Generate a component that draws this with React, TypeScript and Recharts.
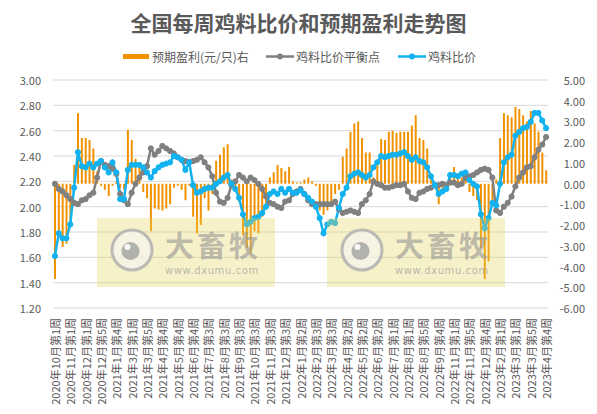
import React from 'react';
import { ComposedChart, Bar, Line, XAxis, YAxis, CartesianGrid } from 'recharts';

// ---- categories: month name, first and last week shown in that month ----
const monthNames = [
  '2020年10月', '2020年11月', '2020年12月', '2021年1月', '2021年2月', '2021年3月', '2021年4月', '2021年5月',
  '2021年6月', '2021年7月', '2021年8月', '2021年9月', '2021年10月', '2021年11月', '2021年12月', '2022年1月',
  '2022年2月', '2022年3月', '2022年4月', '2022年5月', '2022年6月', '2022年7月', '2022年8月', '2022年9月',
  '2022年10月', '2022年11月', '2022年12月', '2023年1月', '2023年2月', '2023年3月', '2023年4月',
];
const monthFirstWeek = [1, 1, 1, 1, 1, 1, 1, 1, 1, 1, 1, 1, 1, 1, 1, 1, 2, 1, 1, 1, 1, 1, 1, 1, 1, 1, 1, 1, 1, 1, 1];
const monthLastWeek = [4, 4, 5, 4, 3, 5, 4, 4, 5, 4, 4, 4, 4, 4, 5, 4, 4, 5, 4, 4, 5, 4, 5, 4, 3, 5, 4, 3, 4, 5, 4];

// ---- series: 鸡料比价 ----
const ratio = [
  1.61, 1.79, 1.75, 1.75, 1.86, 2.15, 2.43, 2.32, 2.31, 2.34,
  2.31, 2.34, 2.36, 2.31, 2.27, 2.35, 2.27, 2.06, 2.06, 2.29,
  2.33, 2.33, 2.33, 2.31, 2.27, 2.23, 2.28, 2.31, 2.33, 2.34,
  2.35, 2.40, 2.39, 2.37, 2.29, 2.35, 2.17, 2.11, 2.12, 2.14,
  2.15, 2.15, 2.18, 2.20, 2.23, 2.25, 2.18, 2.14, 2.07, 1.94,
  1.86, 1.88, 1.91, 1.92, 1.95, 2.00, 2.10, 2.12, 2.10, 2.14,
  2.11, 2.14, 2.11, 2.11, 2.13, 2.10, 2.07, 2.04, 2.00, 1.91,
  1.79, 1.86, 1.88, 1.87, 1.99, 2.10, 2.15, 2.24, 2.26, 2.27,
  2.25, 2.23, 2.25, 2.31, 2.35, 2.40, 2.39, 2.40, 2.41, 2.41,
  2.42, 2.43, 2.40, 2.37, 2.39, 2.36, 2.35, 2.31, 2.24, 2.17,
  2.10, 2.12, 2.14, 2.25, 2.25, 2.24, 2.26, 2.27, 2.21, 2.18,
  2.16, 1.94, 1.83, 1.91, 2.03, 2.01, 2.18, 2.35, 2.39, 2.41,
  2.56, 2.59, 2.62, 2.63, 2.67, 2.74, 2.74, 2.68, 2.62,
];

// ---- series: 鸡料比价平衡点 ----
const balance = [
  2.18, 2.14, 2.12, 2.09, 2.06, 2.03, 2.02, 2.05, 2.06, 2.09,
  2.11, 2.23, 2.36, 2.33, 2.32, 2.30, 2.26, 2.10, 2.05, 2.02,
  2.11, 2.18, 2.23, 2.27, 2.32, 2.46, 2.41, 2.44, 2.48, 2.46,
  2.44, 2.42, 2.39, 2.37, 2.36, 2.35, 2.36, 2.37, 2.39, 2.35,
  2.31, 2.24, 2.11, 2.04, 2.03, 2.07, 2.17, 2.20, 2.25, 2.23,
  2.20, 2.23, 2.21, 2.18, 2.14, 2.08, 2.03, 2.02, 2.00, 1.99,
  2.04, 2.05, 2.10, 2.12, 2.14, 2.10, 2.05, 2.02, 2.02, 2.02,
  2.02, 2.02, 2.02, 2.04, 1.98, 1.95, 1.96, 1.97, 1.96, 1.95,
  2.02, 2.05, 2.10, 2.20, 2.18, 2.17, 2.15, 2.15, 2.16, 2.17,
  2.17, 2.18, 2.12, 2.07, 2.06, 2.11, 2.12, 2.14, 2.15, 2.17,
  2.17, 2.18, 2.17, 2.19, 2.19, 2.17, 2.18, 2.23, 2.24, 2.25,
  2.27, 2.29, 2.30, 2.29, 2.23, 1.97, 1.95, 2.00, 2.03, 2.08,
  2.16, 2.23, 2.27, 2.31, 2.32, 2.39, 2.45, 2.49, 2.55,
];

// ---- series: 预期盈利(元/只) ----
const profit = [
  -4.6, -2.5, -3.05, -2.9, -2.0, 0.9, 3.4, 2.2, 2.2, 2.1,
  1.7, 0.6, -0.1, -0.3, -0.6, -0.1, 0.1, -0.2, -0.3, 2.6,
  2.1, 1.2, 0.8, -0.4, -0.7, -2.3, -1.2, -1.25, -1.3, -1.2,
  -1.0, -0.2, -0.1, -0.3, -0.8, -0.1, -1.6, -2.4, -2.0, -0.7,
  -1.3, -0.5, 1.1, 1.4, 1.75, 1.9, 0.2, -0.4, -0.9, -2.5,
  -3.1, -3.35, -2.3, -2.4, -1.6, -1.0, 0.3, 0.55, 0.9, 0.75,
  0.6, 0.8, 0.1, 0.05, 0.05, 0.2, 0.3, 0.1, -0.1, -1.3,
  -1.5, -1.3, -1.0, -0.5, -0.3, 1.3, 1.7, 2.5, 2.9, 3.0,
  2.2, 1.5, 1.5, 0.3, 1.0, 2.15, 2.1, 2.5, 2.55, 2.45,
  2.5, 2.5, 2.5, 2.8, 3.3, 2.2, 2.1, 1.7, 0.4, -0.2,
  -1.0, -0.5, -0.3, 0.5, 0.8, 0.5, 0.3, 0.3, -0.4, -0.6,
  -0.8, -3.1, -4.6, -3.75, -0.8, 0.2, 2.2, 3.4, 3.3, 3.2,
  3.7, 3.6, 3.3, 3.0, 3.5, 2.9, 2.5, 1.5, 0.65,
];

const leftTicks = [1.2, 1.4, 1.6, 1.8, 2.0, 2.2, 2.4, 2.6, 2.8, 3.0];
const rightTicks = [-6, -5, -4, -3, -2, -1, 0, 1, 2, 3, 4, 5];

const seriesNames = ['预期盈利(元/只)右', '鸡料比价平衡点', '鸡料比价'];
const title = '全国每周鸡料比价和预期盈利走势图';

const weekLabels: string[] = [];
monthNames.forEach((m, k) => {
  for (let w = monthFirstWeek[k]; w <= monthLastWeek[k]; w++) weekLabels.push(`${m}第${w}周`);
});

const data = weekLabels.map((week, i) => ({
  week,
  profit: profit[i],
  balance: balance[i],
  ratio: ratio[i],
}));

const FONT = "'Noto Sans CJK SC', 'Noto Sans', sans-serif";
const TEXT = '#595959';
const ORANGE = '#F39200';
const GRAY = '#808080';
const BLUE = '#12B2F0';

const XTick = (props: any) => {
  const { x, y, payload } = props;
  return (
    <g transform={`translate(${x},${y})`}>
      <text transform="rotate(-90)" textAnchor="end" dominantBaseline="central" fontSize={11} fill={TEXT} fontFamily={FONT}>
        {payload.value}
      </text>
    </g>
  );
};

const ValueTick = (props: any) => {
  const { x, y, payload } = props;
  return (
    <text x={x} y={y} textAnchor="end" dominantBaseline="central" fontSize={11} fill={TEXT} fontFamily={FONT}>
      {Number(payload.value).toFixed(2)}
    </text>
  );
};

const Watermark = ({ x0 }: { x0: number }) => (
  <g transform={`translate(${x0},218)`}>
    <rect width={178} height={69} fill="rgba(232,212,90,0.33)" />
    <circle cx={35} cy={32} r={20} fill="rgba(245,245,245,0.6)" stroke="rgba(175,175,175,0.85)" strokeWidth={3} />
    <circle cx={33.5} cy={33} r={9} fill="rgba(165,165,165,0.85)" />
    <circle cx={30.5} cy={29} r={3} fill="rgba(255,255,255,0.9)" />
    <text x={68} y={39} fontSize={29} fontWeight="bold" fill="rgba(150,150,150,0.6)" fontFamily={FONT} letterSpacing={3}>
      大畜牧
    </text>
    <text x={68} y={56} fontSize={10} fill="rgba(150,150,150,0.65)" fontFamily="'DejaVu Sans', sans-serif" letterSpacing={0.6}>
      www.dxumu.com
    </text>
  </g>
);

export default function App() {
  return (
    <div style={{ position: 'absolute', left: 0, top: 0, width: 597, height: 414, background: '#fff', fontFamily: FONT }}>
      <div
        style={{
          position: 'absolute', left: 0, top: 11, width: 597, textAlign: 'center',
          fontSize: 21, lineHeight: '22px', fontWeight: 'bold', color: TEXT,
        }}
      >
        {title}
      </div>

      {/* legend */}
      <div style={{ position: 'absolute', left: 0, top: 48, width: 597, height: 18, fontSize: 12, color: TEXT }}>
        <div style={{ position: 'absolute', left: 123, top: 6, width: 26, height: 5, background: ORANGE }} />
        <div style={{ position: 'absolute', left: 152, top: 0, lineHeight: '17px', whiteSpace: 'nowrap' }}>{seriesNames[0]}</div>
        <svg style={{ position: 'absolute', left: 266, top: 0 }} width={28} height={18}>
          <line x1={0} y1={8.5} x2={28} y2={8.5} stroke={GRAY} strokeWidth={2.5} />
          <circle cx={14} cy={8.5} r={3} fill={GRAY} />
        </svg>
        <div style={{ position: 'absolute', left: 296, top: 0, lineHeight: '17px', whiteSpace: 'nowrap' }}>{seriesNames[1]}</div>
        <svg style={{ position: 'absolute', left: 398, top: 0 }} width={28} height={18}>
          <line x1={0} y1={8.5} x2={28} y2={8.5} stroke={BLUE} strokeWidth={2.5} />
          <circle cx={14} cy={8.5} r={3} fill={BLUE} />
        </svg>
        <div style={{ position: 'absolute', left: 428, top: 0, lineHeight: '17px', whiteSpace: 'nowrap' }}>{seriesNames[2]}</div>
      </div>

      <div style={{ position: 'absolute', left: 0, top: 0 }}>
        <ComposedChart width={597} height={414} data={data} margin={{ top: 80, right: 0, bottom: 0, left: 0 }}>
          <CartesianGrid yAxisId="left" vertical={false} stroke="#d9d9d9" strokeWidth={1} />
          <XAxis
            dataKey="week"
            interval={3}
            height={106}
            tickSize={0}
            tickMargin={10}
            axisLine={false}
            tickLine={false}
            tick={XTick}
          />
          <YAxis
            yAxisId="left"
            orientation="left"
            domain={[1.2, 3.0]}
            ticks={leftTicks}
            interval={0}
            width={53}
            tickSize={0}
            tickMargin={12}
            axisLine={false}
            tickLine={false}
            tick={ValueTick}
            allowDataOverflow
          />
          <YAxis
            yAxisId="right"
            orientation="right"
            domain={[-6, 5]}
            ticks={rightTicks}
            interval={0}
            width={49}
            tickSize={0}
            tickMargin={37}
            axisLine={false}
            tickLine={false}
            tick={ValueTick}
            allowDataOverflow
          />
          <Bar yAxisId="right" dataKey="profit" name={seriesNames[0]} fill={ORANGE} barSize={2} isAnimationActive={false} />
          <Line
            yAxisId="left"
            type="linear"
            dataKey="balance"
            name={seriesNames[1]}
            stroke={GRAY}
            strokeWidth={2.5}
            dot={{ r: 2.6, fill: GRAY, stroke: GRAY, strokeWidth: 1 }}
            activeDot={false}
            isAnimationActive={false}
          />
          <Line
            yAxisId="left"
            type="linear"
            dataKey="ratio"
            name={seriesNames[2]}
            stroke={BLUE}
            strokeWidth={2.5}
            dot={{ r: 2.6, fill: BLUE, stroke: BLUE, strokeWidth: 1 }}
            activeDot={false}
            isAnimationActive={false}
          />
        </ComposedChart>
      </div>

      <svg width={597} height={414} style={{ position: 'absolute', left: 0, top: 0, pointerEvents: 'none' }}>
        <Watermark x0={97} />
        <Watermark x0={327} />
      </svg>
    </div>
  );
}
